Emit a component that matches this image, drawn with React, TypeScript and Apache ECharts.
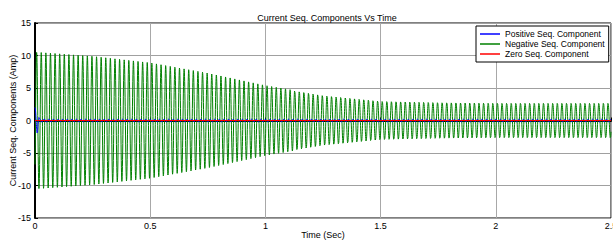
import React, { useEffect, useRef } from "react";
import * as echarts from "echarts";

const titleText = "Current Seq. Components Vs Time";
const xName = "Time (Sec)";
const yName = "Current Seq. Components (Amp)";
const seriesNames = ["Positive Seq. Component", "Negative Seq. Component", "Zero Seq. Component"];
const seriesColors = ["#0000ff", "#008000", "#ff0000"];

// envelope (time in s, peak amplitude in A)
const envTimes = [0, 0.01, 0.02, 0.1, 0.25, 0.5, 0.75, 1.0, 1.25, 1.5, 1.75, 2.0, 2.5];
const negSeqEnvelope = [10.5, 10.5, 10.5, 10.3, 9.9, 8.9, 7.3, 5.4, 3.9, 3.0, 2.8, 2.7, 2.7];
const posSeqEnvelope = [2.0, 2.0, 0.25, 0.2, 0.2, 0.2, 0.2, 0.2, 0.2, 0.2, 0.2, 0.2, 0.2];
const zeroSeqTimes = [0, 2.5];
const zeroSeqValues = [0, 0];
const systemFrequencyHz = 50;
const negSeqPhase = -0.7;
const posSeqPhase = Math.PI / 2;
const sampleStep = 0.0005;
const tEnd = 2.5;

function envAt(t: number, env: number[]) {
  for (let i = 0; i < envTimes.length - 1; i++) {
    if (t >= envTimes[i] && t <= envTimes[i + 1]) {
      const f = (t - envTimes[i]) / (envTimes[i + 1] - envTimes[i]);
      return env[i] + f * (env[i + 1] - env[i]);
    }
  }
  return env[env.length - 1];
}

function buildWave(env: number[], phase: number) {
  const out: number[][] = [];
  const n = Math.round(tEnd / sampleStep);
  for (let k = 0; k <= n; k++) {
    const t = k * sampleStep;
    out.push([t, envAt(t, env) * Math.sin(2 * Math.PI * systemFrequencyHz * t + phase)]);
  }
  return out;
}

const FONT = "Liberation Sans, Arial, sans-serif";

export default function App() {
  const ref = useRef<HTMLDivElement>(null);
  useEffect(() => {
    document.body.style.margin = "0";
    const chart = echarts.init(ref.current!, null, { renderer: "svg" });
    const posData = buildWave(posSeqEnvelope, posSeqPhase);
    const negData = buildWave(negSeqEnvelope, negSeqPhase);
    const zeroData = zeroSeqTimes.map((t, i) => [t, zeroSeqValues[i]]);
    chart.setOption({
      animation: false,
      backgroundColor: "#fff",
      title: {
        text: titleText,
        left: 322,
        top: 8,
        textAlign: "center",
        textStyle: { fontSize: 9, fontWeight: "normal", color: "#000", fontFamily: FONT },
      },
      grid: {
        left: 35,
        right: 2,
        top: 23,
        bottom: 24,
        show: true,
        borderColor: "#000",
        borderWidth: 1,
        containLabel: false,
        outerBoundsMode: "none",
      },
      legend: {
        orient: "vertical",
        left: 476,
        top: 26,
        itemWidth: 20,
        itemHeight: 1.5,
        itemGap: 0,
        icon: "rect",
        padding: [3, 4, 3, 4],
        borderColor: "#000",
        borderWidth: 1,
        backgroundColor: "#fff",
        data: seriesNames,
        textStyle: { fontSize: 8.5, color: "#000", fontFamily: FONT, lineHeight: 10 },
      },
      xAxis: {
        type: "value",
        min: 0,
        max: 2.5,
        interval: 0.5,
        name: xName,
        nameLocation: "middle",
        nameGap: 12,
        nameMoveOverlap: false,
        nameTextStyle: { fontSize: 9, color: "#000", fontFamily: FONT },
        axisLine: { show: true, lineStyle: { color: "#000", width: 2 } },
        axisTick: { show: true, inside: true, length: 3, lineStyle: { color: "#000" } },
        axisLabel: { fontSize: 9, color: "#000", fontFamily: FONT, margin: 3 },
        splitLine: { show: true, lineStyle: { color: "#a8a8a8", width: 1 } },
      },
      yAxis: {
        type: "value",
        min: -15,
        max: 15,
        interval: 5,
        name: yName,
        nameLocation: "middle",
        nameGap: 18,
        nameMoveOverlap: false,
        nameTextStyle: { fontSize: 9, color: "#000", fontFamily: FONT },
        axisLine: { show: true, lineStyle: { color: "#000", width: 2 } },
        axisTick: { show: true, inside: true, length: 3, lineStyle: { color: "#000" } },
        axisLabel: { fontSize: 9, color: "#000", fontFamily: FONT, margin: 4 },
        splitLine: { show: true, lineStyle: { color: "#a0a0a0", width: 1 } },
      },
      series: [
        {
          name: seriesNames[0],
          type: "line",
          data: posData,
          showSymbol: false,
          z: 3,
          color: seriesColors[0],
          lineStyle: { width: 1, color: seriesColors[0] },
        },
        {
          name: seriesNames[1],
          type: "line",
          data: negData,
          showSymbol: false,
          z: 2,
          color: seriesColors[1],
          lineStyle: { width: 1, color: seriesColors[1] },
        },
        {
          name: seriesNames[2],
          type: "line",
          data: zeroData,
          showSymbol: false,
          z: 4,
          color: seriesColors[2],
          lineStyle: { width: 1, color: seriesColors[2] },
        },
      ],
    });
    return () => chart.dispose();
  }, []);
  return <div ref={ref} style={{ width: 613, height: 242 }} />;
}
